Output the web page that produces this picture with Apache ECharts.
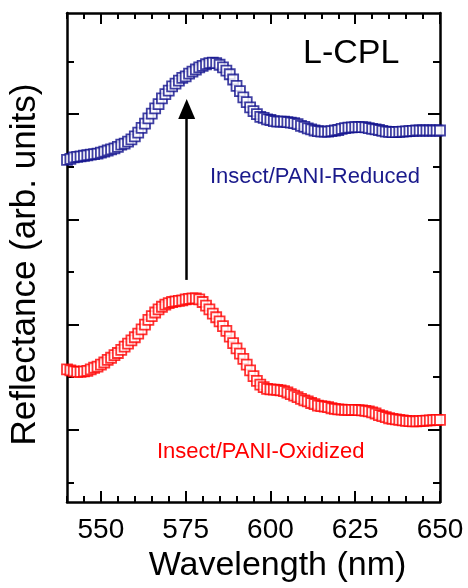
<!DOCTYPE html>
<html>
<head>
<meta charset="utf-8">
<script src="https://cdn.jsdelivr.net/npm/echarts@6/dist/echarts.min.js"></script>
<style>
html,body{margin:0;padding:0;background:#fff;}
#chart{width:468px;height:588px;}
</style>
</head>
<body>
<div id="chart"></div>
<script>
// ---- data ----
const wavelength = [
540,541,542,543,544,545,546,547,548,549,
550,551,552,553,554,555,556,557,558,559,
560,561,562,563,564,565,566,567,568,569,
570,571,572,573,574,575,576,577,578,579,
580,581,582,583,584,585,586,587,588,589,
590,591,592,593,594,595,596,597,598,599,
600,601,602,603,604,605,606,607,608,609,
610,611,612,613,614,615,616,617,618,619,
620,621,622,623,624,625,626,627,628,629,
630,631,632,633,634,635,636,637,638,639,
640,641,642,643,644,645,646,647,648,649,650];

const reduced = [
7.13,7.15,7.18,7.19,7.20,7.21,7.22,7.23,7.24,7.25,
7.27,7.29,7.31,7.33,7.35,7.38,7.42,7.44,7.48,7.52,
7.58,7.65,7.74,7.82,7.92,8.01,8.11,8.19,8.30,8.38,
8.45,8.53,8.58,8.64,8.69,8.72,8.77,8.81,8.85,8.89,
8.92,8.95,8.97,8.98,8.97,8.94,8.89,8.83,8.76,8.66,
8.54,8.44,8.32,8.23,8.13,8.06,8.00,7.95,7.93,7.90,
7.89,7.87,7.86,7.86,7.86,7.85,7.84,7.83,7.81,7.78,
7.76,7.73,7.71,7.69,7.68,7.67,7.67,7.67,7.68,7.69,
7.70,7.72,7.735,7.745,7.75,7.755,7.755,7.755,7.75,7.735,
7.72,7.71,7.70,7.685,7.67,7.665,7.66,7.66,7.665,7.67,
7.675,7.68,7.685,7.69,7.69,7.69,7.69,7.69,7.69,7.69,7.69];

const oxidized = [
3.15,3.13,3.11,3.10,3.10,3.11,3.12,3.15,3.18,3.20,
3.24,3.28,3.33,3.37,3.42,3.46,3.52,3.58,3.64,3.70,
3.76,3.83,3.91,4.00,4.09,4.16,4.23,4.29,4.34,4.38,
4.41,4.43,4.44,4.45,4.46,4.48,4.49,4.50,4.50,4.48,
4.43,4.36,4.29,4.21,4.14,4.06,3.97,3.88,3.77,3.65,
3.55,3.45,3.35,3.24,3.13,3.02,2.93,2.86,2.81,2.78,
2.77,2.765,2.76,2.75,2.735,2.71,2.68,2.65,2.62,2.59,
2.56,2.54,2.51,2.49,2.46,2.45,2.44,2.43,2.41,2.40,
2.39,2.385,2.38,2.38,2.38,2.38,2.375,2.37,2.36,2.35,
2.33,2.31,2.28,2.26,2.24,2.22,2.21,2.20,2.19,2.18,
2.17,2.165,2.16,2.16,2.165,2.17,2.175,2.18,2.185,2.19,2.19];

const xMajorTicks = [550, 575, 600, 625, 650];
const yMajorTicks = [2, 4, 6, 8];
const yMinorTicks = [1, 3, 5, 7, 9];
const arrowFrom = [575.3, 4.85];
const arrowTo = [575.3, 8.10];

const seriesNames = ['Insect/PANI-Reduced', 'Insect/PANI-Oxidized'];
const panelLabel = 'L-CPL';

// ---- chart ----
const FONT = '"Liberation Sans", Arial, Helvetica, sans-serif';
const chart = echarts.init(document.getElementById('chart'), null, {renderer: 'canvas'});

function pairs(xs, ys) { return xs.map((x, i) => [x, ys[i]]); }

const lineBlack = {show: true, lineStyle: {color: '#000', width: 2.5}};
const noLine = {show: false};

function xAx(pos, major, showLine, showLabel) {
  const ax = {
    type: 'value', position: pos, min: 540, max: 650,
    axisLine: showLine ? lineBlack : noLine,
    splitLine: {show: false},
    axisTick: {show: true, inside: true, length: major ? 11 : 6, lineStyle: {color: '#000', width: 2}},
    axisLabel: {show: false}
  };
  if (major) {
    ax.axisTick.customValues = xMajorTicks;
    ax.axisLabel = showLabel ? {show: true, customValues: xMajorTicks, fontSize: 28, fontFamily: FONT, color: '#000', margin: 14} : {show: false, customValues: xMajorTicks};
  } else {
    ax.interval = 5;
  }
  return ax;
}
function yAx(pos, major, showLine) {
  return {
    type: 'value', position: pos, min: 0.626, max: 9.924,
    axisLine: showLine ? lineBlack : noLine,
    splitLine: {show: false},
    axisTick: {show: true, inside: true, length: major ? 12 : 7, customValues: major ? yMajorTicks : yMinorTicks, lineStyle: {color: '#000', width: 2}},
    axisLabel: {show: false, customValues: major ? yMajorTicks : yMinorTicks}
  };
}

const xAxes = [xAx('bottom', true, true, true), xAx('bottom', false, false, false), xAx('top', true, true, false), xAx('top', false, false, false)];
xAxes[0].name = 'Wavelength (nm)';
xAxes[0].nameLocation = 'middle';
xAxes[0].nameGap = 46;
xAxes[0].nameTextStyle = {fontSize: 34, fontFamily: FONT, color: '#000', padding: [0, 0, 0, 48]};

const yAxes = [yAx('left', true, true), yAx('left', false, false), yAx('right', true, true), yAx('right', false, false)];
yAxes[0].name = 'Reflectance (arb. units)';
yAxes[0].nameLocation = 'middle';
yAxes[0].nameGap = 24;
yAxes[0].nameTextStyle = {fontSize: 35, fontFamily: FONT, color: '#000', padding: [0, 14, 0, 0]};

const option = {
  animation: false,
  backgroundColor: '#fff',
  grid: {left: 67, right: 28, top: 13, bottom: 85, containLabel: false},
  xAxis: xAxes,
  yAxis: yAxes,
  series: [
    {
      name: seriesNames[1], type: 'scatter', data: pairs(wavelength, oxidized),
      symbol: 'rect', symbolSize: 10,
      itemStyle: {color: '#fff', borderColor: '#ff0000', borderWidth: 1.8},
      clip: false, z: 3,
      markLine: {
        silent: true, symbol: ['none', 'triangle'], symbolSize: [17, 20],
        label: {show: false},
        lineStyle: {color: '#000', width: 2.5, type: 'solid'},
        data: [[{coord: arrowFrom}, {coord: arrowTo}]]
      }
    },
    {
      name: seriesNames[0], type: 'scatter', data: pairs(wavelength, reduced),
      symbol: 'rect', symbolSize: 10,
      itemStyle: {color: '#fff', borderColor: '#10108c', borderWidth: 1.8},
      clip: false, z: 3
    }
  ],
  graphic: [
    {type: 'text', left: 303, top: 37, style: {text: panelLabel, font: '34px ' + FONT, fill: '#000'}},
    {type: 'text', left: 210, top: 166, style: {text: seriesNames[0], font: '22px ' + FONT, fill: '#1a1a8c'}},
    {type: 'text', left: 157, top: 441, style: {text: seriesNames[1], font: '22px ' + FONT, fill: '#ff0000'}}
  ]
};
chart.setOption(option);
</script>
</body>
</html>
